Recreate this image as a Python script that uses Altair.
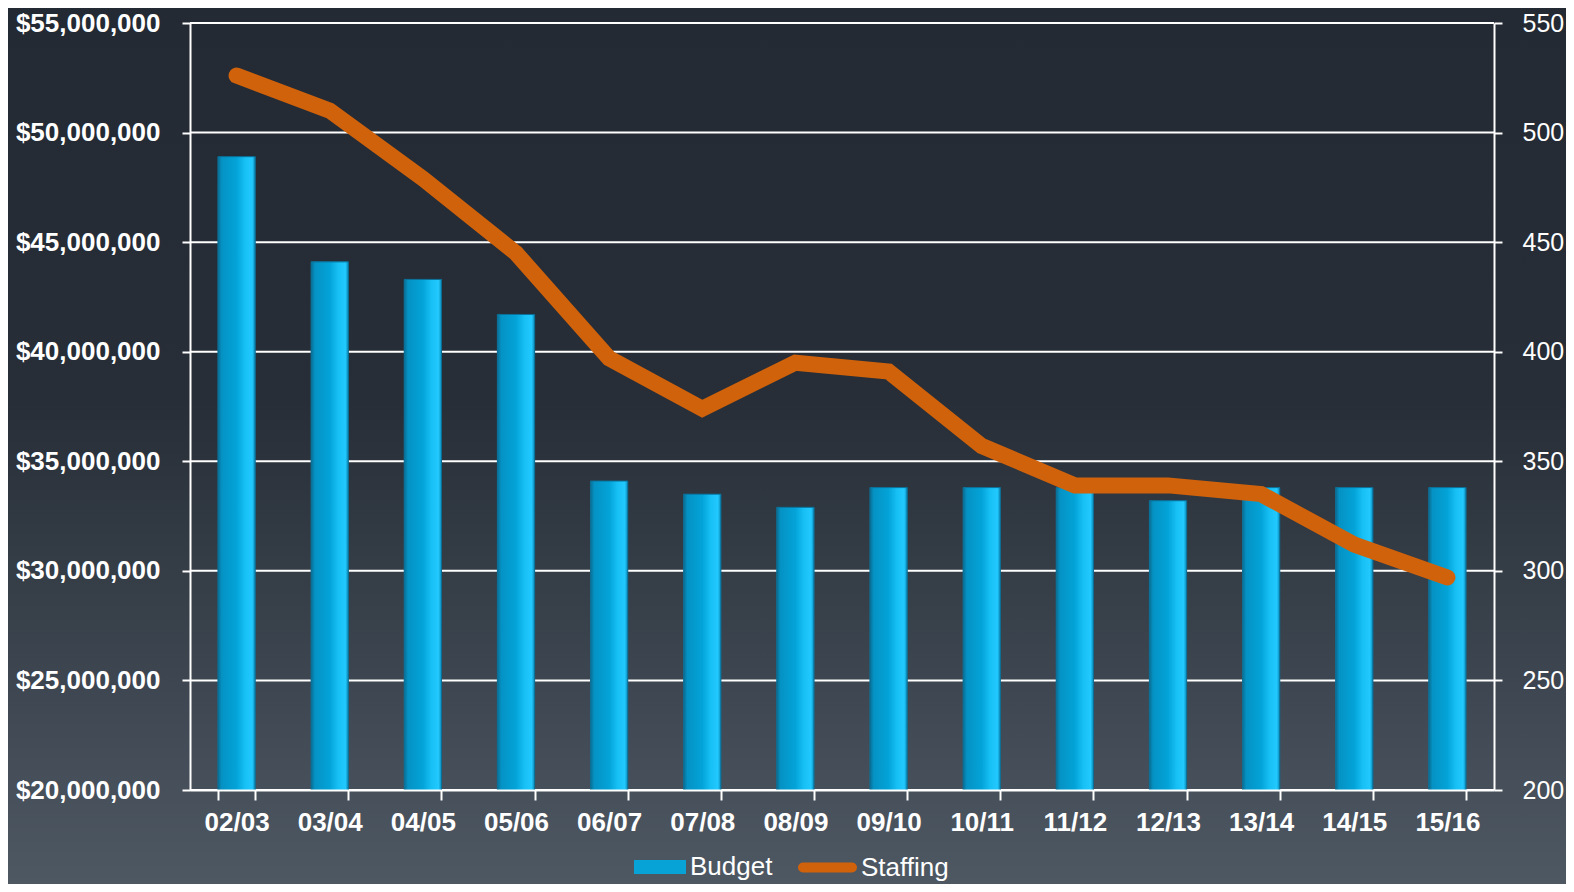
import altair as alt
import pandas as pd

periods = ["02/03", "03/04", "04/05", "05/06", "06/07", "07/08", "08/09",
           "09/10", "10/11", "11/12", "12/13", "13/14", "14/15", "15/16"]
budget = [48900000, 44100000, 43300000, 41700000, 34100000, 33500000, 32900000,
          33800000, 33800000, 33800000, 33200000, 33800000, 33800000, 33800000]
staffing = [526, 510, 479, 445, 397, 374, 395, 391, 357, 339, 339, 335, 312, 297]
series_names = ["Budget", "Staffing"]
budget_ticks = [20000000, 25000000, 30000000, 35000000, 40000000, 45000000, 50000000, 55000000]
staff_ticks = [200, 250, 300, 350, 400, 450, 500, 550]

df = pd.DataFrame({
    "period": periods,
    "value": budget,
    "staff": staffing,
    "bar_series": [series_names[0]] * len(periods),
    "line_series": [series_names[1]] * len(periods),
})
grid_df = pd.DataFrame({"value": budget_ticks})
bg_df = pd.DataFrame({"k": [0]})

W, H = 1304, 767
PAD = {"left": 182, "top": 15, "right": 72, "bottom": 94}
FONT = "Liberation Sans"

x_enc = alt.X(
    "period:N", sort=periods, title=None,
    scale=alt.Scale(paddingInner=0.6, paddingOuter=0.3),
    axis=alt.Axis(labelFontSize=26, labelFontWeight="bold", labelColor="white",
                  labelFont=FONT, labelAngle=0, labelPadding=9,
                  tickBand="extent", tickSize=10, tickColor="white", tickWidth=2,
                  domainColor="white", domainWidth=2, grid=False, zindex=1),
)

left_axis = alt.Axis(orient="left", values=budget_ticks, format="$,.0f", title=None,
                     labelFontSize=26, labelFontWeight="bold", labelColor="white",
                     labelFont=FONT, labelPadding=22, tickSize=8, tickColor="white",
                     tickWidth=2, domainColor="white", domainWidth=2, grid=False, zindex=1)
y_left = alt.Y("value:Q", scale=alt.Scale(domain=[20000000, 55000000], nice=False, zero=False),
               axis=left_axis)

right_axis = alt.Axis(orient="right", values=staff_ticks, title=None,
                      labelFontSize=25, labelColor="white", labelFont=FONT,
                      labelPadding=20, tickSize=8, tickColor="white", tickWidth=2,
                      domainColor="white", domainWidth=2, grid=False, zindex=1)
y_right = alt.Y("staff:Q", scale=alt.Scale(domain=[200, 550], nice=False, zero=False),
                axis=right_axis)

bg = alt.Chart(bg_df).mark_rect(
    color=alt.Gradient(gradient="linear", x1=0, x2=0, y1=0, y2=1,
                       stops=[alt.GradientStop(offset=0, color="#232a33"),
                              alt.GradientStop(offset=0.45, color="#272e37"),
                              alt.GradientStop(offset=1, color="#4e5863")])
).encode(
    x=alt.value(-PAD["left"]), x2=alt.value(W + PAD["right"]),
    y=alt.value(-PAD["top"]), y2=alt.value(H + PAD["bottom"]),
)

grid = alt.Chart(grid_df).mark_rule(color="white", strokeWidth=2).encode(y=y_left)

bars_a = alt.Chart(df).mark_bar(clip=True).encode(
    x=x_enc, y=y_left,
    fill=alt.Fill("bar_series:N",
                  scale=alt.Scale(domain=[series_names[0]], range=["#07a2d6"]),
                  legend=alt.Legend(title=None, orient="none", legendX=444, legendY=818,
                                    symbolType="M-1,-0.27H1V0.27H-1Z", symbolSize=2704,
                                    labelFontSize=26, labelColor="white", labelFont=FONT,
                                    padding=0, zindex=1, symbolStrokeWidth=0)),
)

bars_b = alt.Chart(df).mark_bar(
    clip=True,
    color=alt.Gradient(gradient="linear", x1=0, x2=1, y1=0, y2=0,
                       stops=[alt.GradientStop(offset=0, color="#0a6d92"),
                              alt.GradientStop(offset=0.1, color="#0592c4"),
                              alt.GradientStop(offset=0.5, color="#03a3d8"),
                              alt.GradientStop(offset=0.72, color="#16bff4"),
                              alt.GradientStop(offset=0.92, color="#22c9ff"),
                              alt.GradientStop(offset=1, color="#0b88b6")]),
    stroke="#0b6f96", strokeWidth=1,
).encode(x=x_enc, y=y_left)

pill = "M-0.86,-0.14H0.86A0.14,0.14 0 0 1 0.86,0.14H-0.86A0.14,0.14 0 0 1 -0.86,-0.14Z"
line = alt.Chart(df).mark_line(strokeWidth=16, strokeCap="round", strokeJoin="miter").encode(
    x=x_enc, y=y_right,
    stroke=alt.Stroke("line_series:N",
                      scale=alt.Scale(domain=[series_names[1]], range=["#d0620b"]),
                      legend=alt.Legend(title=None, orient="none", legendX=608, legendY=815,
                                        symbolType=pill, symbolSize=3249,
                                        symbolFillColor="#d0620b", symbolStrokeWidth=2,
                                        labelFontSize=26, labelColor="white", labelFont=FONT,
                                        padding=0, zindex=1)),
)

left_group = alt.layer(grid, bars_a, bars_b)

chart = alt.layer(bg, left_group, line).resolve_scale(y="independent").properties(
    width=W, height=H,
    autosize=alt.AutoSizeParams(type="none"),
    padding=PAD,
    background="#232a33",
).configure_view(stroke=None).configure(font=FONT)

chart.save("out.html", embed_options={"renderer": "svg", "actions": False})
